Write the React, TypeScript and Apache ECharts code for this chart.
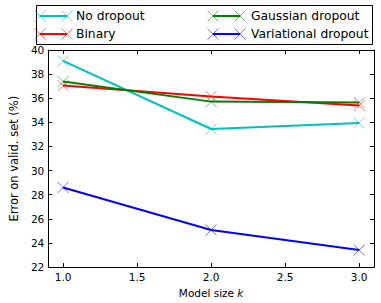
import React, { useEffect, useRef } from "react";
import * as echarts from "echarts";

const modelSizes = [1.0, 2.0, 3.0];
const seriesNames = ["No dropout", "Binary", "Gaussian dropout", "Variational dropout"];
const seriesColors = ["#00BFBF", "#FF0000", "#008000", "#0000FF"];
const noDropout = [39.1, 33.45, 33.95];
const binary = [37.05, 36.15, 35.4];
const gaussian = [37.38, 35.72, 35.65];
const variational = [28.6, 25.08, 23.42];
const xTicks = [1.0, 1.5, 2.0, 2.5, 3.0];
const yTicks = [22, 24, 26, 28, 30, 32, 34, 36, 38, 40];

const allValues = [noDropout, binary, gaussian, variational];
const FONT = "DejaVu Sans";
const X_SYMBOL = "path://M0,0L10,10M10,0L0,10";

export default function App() {
  const ref = useRef<HTMLDivElement>(null);
  useEffect(() => {
    if (!ref.current) return;
    const chart = echarts.init(ref.current, undefined, { renderer: "svg" });

    const axisCommon = {
      type: "value" as const,
      axisLine: { show: true, onZero: false, lineStyle: { color: "#000", width: 1 } },
      axisTick: { show: true, inside: true, length: 4, lineStyle: { color: "#000" } },
      splitLine: { show: false },
    };

    const series = allValues.map((vals, i) => ({
      name: seriesNames[i],
      type: "line",
      xAxisIndex: 0,
      yAxisIndex: 0,
      data: vals.map((v, j) => [modelSizes[j], v]),
      symbol: X_SYMBOL,
      symbolSize: 11,
      showSymbol: true,
      lineStyle: { color: seriesColors[i], width: 2 },
      itemStyle: { color: "transparent", borderColor: seriesColors[i], borderWidth: 1, opacity: 0.55 },
      emphasis: { disabled: true },
      z: 2 + i,
    }));

    // legend via graphic
    const legendElems: any[] = [
      {
        type: "rect",
        shape: { x: 36.5, y: 5.5, width: 336, height: 39 },
        style: { fill: "#fff", stroke: "#000", lineWidth: 1 },
      },
    ];
    const cols = [
      { x0: 40, x1: 67, tx: 76 },
      { x0: 213, x1: 240, tx: 251 },
    ];
    const rows = [16, 34];
    seriesNames.forEach((name, i) => {
      const c = cols[Math.floor(i / 2)];
      const y = rows[i % 2];
      const col = seriesColors[i];
      legendElems.push({
        type: "line",
        shape: { x1: c.x0, y1: y, x2: c.x1, y2: y },
        style: { stroke: col, lineWidth: 2 },
      });
      [c.x0, c.x1].forEach((mx) => {
        legendElems.push({
          type: "line",
          shape: { x1: mx - 5.5, y1: y - 5.5, x2: mx + 5.5, y2: y + 5.5 },
          style: { stroke: col, lineWidth: 1, opacity: 0.55 },
        });
        legendElems.push({
          type: "line",
          shape: { x1: mx - 5.5, y1: y + 5.5, x2: mx + 5.5, y2: y - 5.5 },
          style: { stroke: col, lineWidth: 1, opacity: 0.55 },
        });
      });
      legendElems.push({
        type: "text",
        x: c.tx,
        y: y,
        style: {
          text: name,
          fill: "#000",
          font: `12.3px "${FONT}"`,
          verticalAlign: "middle",
          align: "left",
        },
      });
    });

    chart.setOption({
      animation: false,
      backgroundColor: "#fff",
      textStyle: { fontFamily: FONT },
      grid: { left: 36, right: 7, top: 50, bottom: 35, containLabel: false },
      xAxis: [
        {
          ...axisCommon,
          position: "bottom",
          min: 0.9,
          max: 3.1,
          axisTick: { ...axisCommon.axisTick, customValues: xTicks },
          axisLabel: {
            customValues: xTicks,
            formatter: (v: number) => v.toFixed(1),
            color: "#000",
            fontSize: 10.5,
            fontFamily: FONT,
            margin: 4,
          },
          name: "Model size {i|k}",
          nameLocation: "middle",
          nameGap: 14,
          nameTextStyle: {
            color: "#000",
            fontSize: 10.5,
            fontFamily: FONT,
            rich: { i: { fontStyle: "italic", fontSize: 10.5, fontFamily: FONT, color: "#000" } },
          },
        },
        {
          ...axisCommon,
          position: "top",
          min: 0.9,
          max: 3.1,
          axisTick: { ...axisCommon.axisTick, customValues: xTicks },
          axisLabel: { show: false },
        },
      ],
      yAxis: [
        {
          ...axisCommon,
          position: "left",
          min: 22,
          max: 40,
          interval: 2,
          axisLabel: {
            formatter: (v: number) => (yTicks.includes(v) ? String(v) : ""),
            color: "#000",
            fontSize: 10.5,
            fontFamily: FONT,
            margin: 4,
          },
          name: "Error on valid. set (%)",
          nameLocation: "middle",
          nameGap: 19,
          nameTextStyle: { color: "#000", fontSize: 11.5, fontFamily: FONT },
        },
        {
          ...axisCommon,
          position: "right",
          min: 22,
          max: 40,
          interval: 2,
          axisLabel: { show: false },
        },
      ],
      series,
      graphic: legendElems,
    });
    return () => chart.dispose();
  }, []);
  return (
    <div
      ref={ref}
      style={{ position: "fixed", left: 0, top: 0, width: 381, height: 303, background: "#fff" }}
    />
  );
}
